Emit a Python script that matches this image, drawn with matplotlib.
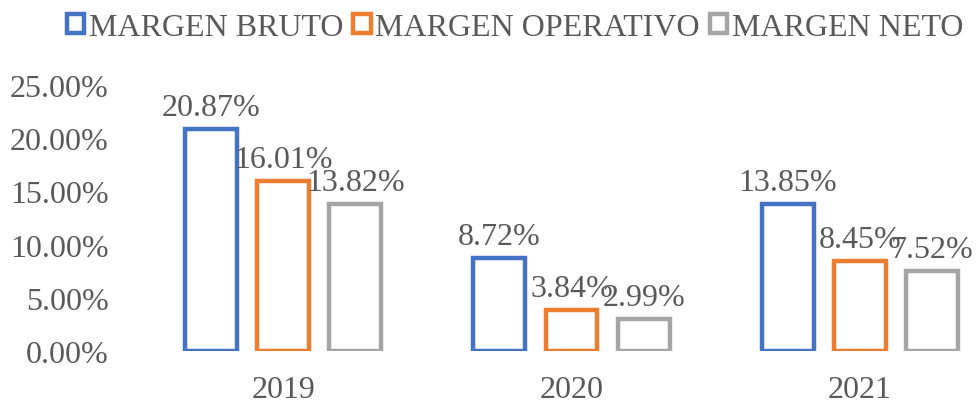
import numpy as np
import matplotlib.pyplot as plt
from matplotlib.patches import Patch

plt.rcParams['font.family'] = ['Liberation Serif', 'DejaVu Serif']

years = ['2019', '2020', '2021']
series = ['MARGEN BRUTO', 'MARGEN OPERATIVO', 'MARGEN NETO']
margen_bruto = [20.87, 8.72, 13.85]
margen_operativo = [16.01, 3.84, 8.45]
margen_neto = [13.82, 2.99, 7.52]
colors = ['#4472C4', '#ED7D31', '#A5A5A5']
text_color = '#595959'
fs = 23

fig = plt.figure(figsize=(9.79, 4.06), dpi=100)
ax = fig.add_axes([139 / 979, 54 / 406, 865 / 979, 266 / 406])

x = np.arange(len(years))
step = 0.25
width = 0.18
for i, (vals, c) in enumerate(zip([margen_bruto, margen_operativo, margen_neto], colors)):
    pos = x + (i - 1) * step
    ax.bar(pos, vals, width, facecolor='none', edgecolor=c, linewidth=3.2)
    for p, v in zip(pos, vals):
        ax.annotate(f'{v:.2f}%', (p, v), xytext=(0, 5), textcoords='offset points',
                    ha='center', va='bottom', fontsize=fs, color=text_color)

ax.set_xlim(-0.5, 2.5)
ax.set_ylim(0, 25)
ax.set_yticks(np.arange(0, 26, 5))
ax.set_yticklabels([f'{t:.2f}%' for t in np.arange(0, 26, 5)])
ax.set_xticks(x)
ax.set_xticklabels(years)
ax.tick_params(length=0, labelsize=fs, colors=text_color, pad=17)
ax.tick_params(axis='y', pad=22)
for s in ax.spines.values():
    s.set_visible(False)

handles = [Patch(facecolor='none', edgecolor=c, linewidth=3.2) for c in colors]
fig.legend(handles, series, loc='center', bbox_to_anchor=(515 / 979, 1 - 28 / 406),
           ncol=3, frameon=False, fontsize=fs, labelcolor=text_color,
           handlelength=0.55, handleheight=0.55, handletextpad=0.15, columnspacing=0.3,
           borderpad=0, borderaxespad=0)

fig.savefig('out.png', dpi=100)
